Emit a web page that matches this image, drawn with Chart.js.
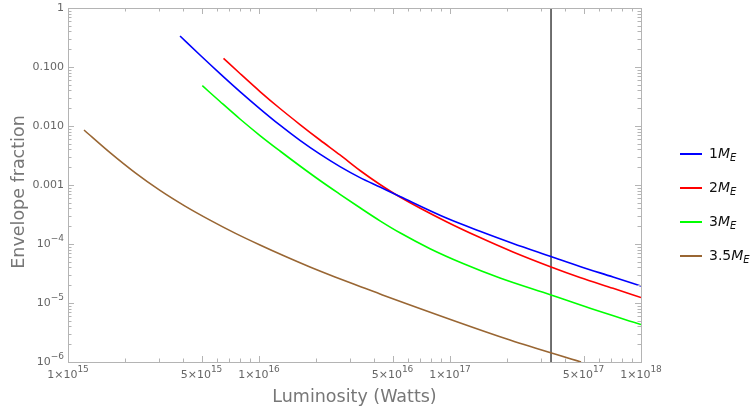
<!DOCTYPE html>
<html>
<head>
<meta charset="utf-8">
<script src="https://cdn.jsdelivr.net/npm/chart.js@4"></script>
<style>
  html, body { margin: 0; padding: 0; background: #fff; }
  canvas { display: block; }
</style>
</head>
<body>
<canvas id="myChart" width="752" height="410"></canvas>
<script>
// series (luminosity in W, envelope fraction)
const masses = ['1', '2', '3', '3.5']
const colors = ['#0000ff', '#ff0000', '#00ff00', '#996633']

const lum1 = [3.86e15, 4.91e15, 6.25e15, 7.95e15, 1.012e16, 1.288e16, 1.639e16, 2.086e16, 2.655e16,
              3.379e16, 4.30e16, 5.47e16, 9.64e16, 1.436e17, 2.137e17, 3.38e17, 4.79e17, 7.14e17, 1e18]
const env1 = [0.335, 0.1597, 0.0773, 0.0383, 0.01957, 0.01032, 0.0057, 0.003327, 0.00205,
              0.001335, 9.25e-4, 6.385e-4, 2.727e-4, 1.648e-4, 1.024e-4, 6.14e-5, 4.155e-5, 2.76e-5, 1.94e-5]

const lum2 = [6.52e15, 7.95e15, 1.012e16, 1.288e16, 1.639e16, 2.086e16, 2.655e16, 3.379e16,
              4.30e16, 5.47e16, 9.64e16, 1.436e17, 2.137e17, 3.38e17, 4.79e17, 7.14e17, 1e18]
const env2 = [0.1404, 0.0776, 0.0384, 0.0198, 0.0106, 0.00579, 0.00323, 0.00176,
              0.00102, 6.26e-4, 2.36e-4, 1.284e-4, 7.32e-5, 4.075e-5, 2.705e-5, 1.775e-5, 1.239e-5]

const lum3 = [5.05e15, 6.25e15, 7.95e15, 1.012e16, 1.288e16, 1.639e16, 2.086e16, 2.655e16, 3.379e16,
              4.30e16, 5.47e16, 7.86e16, 1.170e17, 1.827e17, 3.38e17, 5.41e17, 1e18]
const env3 = [0.0482, 0.0260, 0.01314, 0.0069, 0.00377, 0.0021, 0.001192, 6.96e-4, 4.11e-4,
              2.47e-4, 1.548e-4, 8.33e-5, 4.67e-5, 2.65e-5, 1.366e-5, 8.13e-6, 4.32e-6]

const lum35 = [1.213e15, 1.66e15, 2.243e15, 3.031e15, 4.099e15, 5.54e15, 7.487e15, 1.012e16,
               1.368e16, 1.849e16, 2.50e16, 3.379e16, 4.30e16, 2.061e17, 4.853e17]
const env35 = [0.00856, 0.00354, 0.001623, 8.1e-4, 4.39e-4, 2.54e-4, 1.53e-4, 9.62e-5,
               6.19e-5, 4.075e-5, 2.76e-5, 1.905e-5, 1.421e-5, 2.36e-6, 1e-6]

const markerLum = 3.38e17

const xTickValues = [1e15, 5e15, 1e16, 5e16, 1e17, 5e17, 1e18]
const xTickLabels = ['1×10^15', '5×10^15', '1×10^16', '5×10^16', '1×10^17', '5×10^17', '1×10^18']
const yTickValues = [1, 0.1, 0.01, 0.001, 1e-4, 1e-5, 1e-6]
const yTickLabels = ['1', '0.100', '0.010', '0.001', '10^\u22124', '10^\u22125', '10^\u22126']

const lums = [lum1, lum2, lum3, lum35]
const envs = [env1, env2, env3, env35]

const FONT = '"DejaVu Sans", sans-serif'

function drawLabel(ctx, text, x, y, align){
    const parts = text.split('^')
    ctx.font = '11px ' + FONT
    const wb = ctx.measureText(parts[0]).width
    let we = 0
    if (parts[1]) {
        ctx.font = '9px ' + FONT
        we = ctx.measureText(parts[1]).width
    }
    const total = wb + we
    let start = x
    if (align === 'center') start = x - total / 2
    if (align === 'right') start = x - total
    ctx.textAlign = 'left'
    ctx.textBaseline = 'middle'
    ctx.font = '11px ' + FONT
    ctx.fillText(parts[0], start, y)
    if (parts[1]) {
        ctx.font = '9px ' + FONT
        ctx.fillText(parts[1], start + wb, y - 5)
    }
}

const framePlugin = {
    id: 'frame',
    afterDraw(chart){
        const ctx = chart.ctx
        const a = chart.chartArea
        const xs = chart.scales.x
        const ys = chart.scales.y
        ctx.save()

        // frame
        ctx.strokeStyle = '#b4b4b4'
        ctx.lineWidth = 1
        ctx.strokeRect(Math.round(a.left) + 0.5, Math.round(a.top) + 0.5,
                       Math.round(a.right - a.left), Math.round(a.bottom - a.top))

        // inward ticks on all four sides
        ctx.beginPath()
        for (let d = 15; d < 18; d++) {
            for (let m = 1; m <= 9; m++) {
                const v = m * Math.pow(10, d)
                const px = Math.round(xs.getPixelForValue(v)) + 0.5
                const len = (m === 1 || m === 5) ? 6 : 3.5
                ctx.moveTo(px, a.bottom); ctx.lineTo(px, a.bottom - len)
                ctx.moveTo(px, a.top); ctx.lineTo(px, a.top + len)
            }
        }
        for (let d = -6; d < 0; d++) {
            for (let m = 1; m <= 9; m++) {
                const v = m * Math.pow(10, d)
                const py = Math.round(ys.getPixelForValue(v)) + 0.5
                const len = m === 1 ? 6 : 3.5
                ctx.moveTo(a.left, py); ctx.lineTo(a.left + len, py)
                ctx.moveTo(a.right, py); ctx.lineTo(a.right - len, py)
            }
        }
        ctx.stroke()

        // tick labels
        ctx.fillStyle = '#666'
        xTickValues.forEach((v, i) => {
            drawLabel(ctx, xTickLabels[i], xs.getPixelForValue(v), a.bottom + 13, 'center')
        })
        yTickValues.forEach((v, i) => {
            drawLabel(ctx, yTickLabels[i], a.left - 4, ys.getPixelForValue(v), 'right')
        })

        // axis titles
        ctx.fillStyle = '#777'
        ctx.font = '17.5px ' + FONT
        ctx.textAlign = 'center'
        ctx.textBaseline = 'middle'
        ctx.fillText('Luminosity (Watts)', (a.left + a.right) / 2, 397)
        ctx.save()
        ctx.translate(19, (a.top + a.bottom) / 2 + 7)
        ctx.rotate(-Math.PI / 2)
        ctx.fillText('Envelope fraction', 0, 0)
        ctx.restore()

        // legend
        masses.forEach((m, i) => {
            const y = 154 + i * 34
            ctx.strokeStyle = colors[i]
            ctx.lineWidth = 2
            ctx.beginPath()
            ctx.moveTo(680, y); ctx.lineTo(702, y)
            ctx.stroke()
            ctx.fillStyle = '#111'
            ctx.textAlign = 'left'
            ctx.textBaseline = 'middle'
            let x = 709
            ctx.font = '14px ' + FONT
            ctx.fillText(m, x, y)
            x += ctx.measureText(m).width
            ctx.font = 'italic 14px ' + FONT
            ctx.fillText('M', x, y)
            x += ctx.measureText('M').width
            ctx.font = 'italic 10px ' + FONT
            ctx.fillText('E', x, y + 4)
        })
        ctx.restore()
    }
}

const datasets = masses.map((m, i) => ({
    label: m + 'M_E',
    data: lums[i].map((x, j) => ({ x: x, y: envs[i][j] })),
    borderColor: colors[i],
    borderWidth: 1.6,
    pointRadius: 0,
    cubicInterpolationMode: 'monotone',
    fill: false
}))
datasets.push({
    label: 'marker',
    data: [{ x: markerLum, y: 1e-6 }, { x: markerLum, y: 1 }],
    borderColor: '#333',
    borderWidth: 1.4,
    pointRadius: 0
})

const ctx = document.getElementById('myChart')
const myChart = new Chart(ctx, {
    type: 'line',
    data: { datasets: datasets },
    options: {
        responsive: false,
        animation: false,
        devicePixelRatio: 1,
        layout: { padding: { left: 68, top: 8, right: 111, bottom: 48 } },
        plugins: { legend: { display: false }, tooltip: { enabled: false } },
        scales: {
            x: { type: 'logarithmic', min: 1e15, max: 1e18, display: false },
            y: { type: 'logarithmic', min: 1e-6, max: 1, display: false }
        }
    },
    plugins: [framePlugin]
})
</script>
</body>
</html>
